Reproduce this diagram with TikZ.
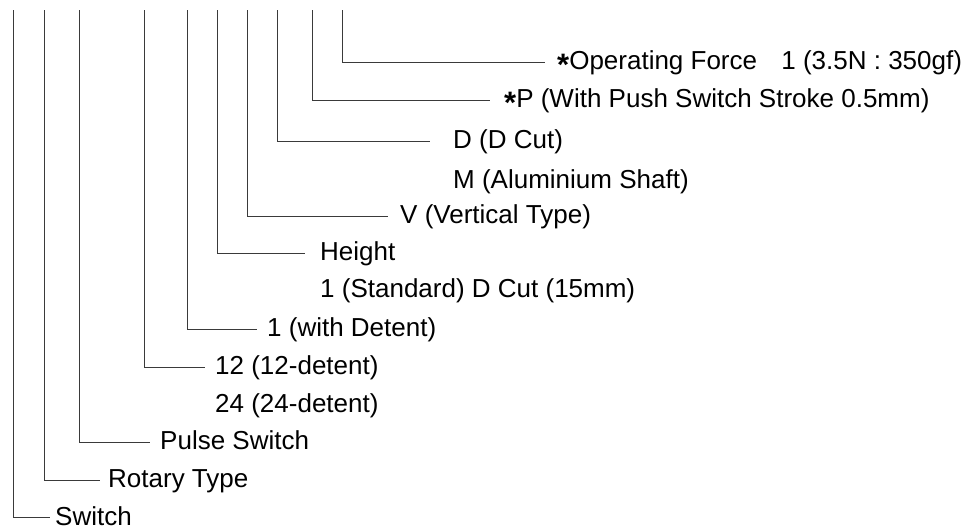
\documentclass[tikz,border=0pt]{standalone}
\usepackage{fontspec}
\setmainfont{Liberation Sans}
\usepackage{tikz}
\usetikzlibrary{positioning}
\definecolor{wire}{HTML}{3A3A3A}
\newcommand{\optmark}{\raisebox{-0.22em}{\fontsize{31}{31}\selectfont\bfseries *}}

\begin{document}
\begin{tikzpicture}[x=1pt,y=-1pt,
  lbl/.style={anchor=base west,inner sep=0pt,font=\fontsize{26}{30}\selectfont},
  lead/.style={draw=wire,line width=0.9pt}]
\useasboundingbox (0,0) rectangle (973,531);
% tops of the leader lines
\coordinate (tsw) at (13,10);
\coordinate (trt) at (44,10);
\coordinate (tps) at (79,10);
\coordinate (tdt) at (144,10);
\coordinate (twd) at (187,10);
\coordinate (tht) at (217,10);
\coordinate (tvt) at (247,10);
\coordinate (tdc) at (277,10);
\coordinate (tpu) at (312,10);
\coordinate (tof) at (342,10);
% labels
\node[lbl] (of) at (557,69.5) {\optmark Operating Force\hspace{17pt} 1 (3.5N : 350gf)};
\node[lbl] (pu) at (504,107.5) {\optmark P (With Push Switch Stroke 0.5mm)};
\node[lbl] (dc) at (453,148.5) {D (D Cut)};
\node[lbl] (am) at ([yshift=-40pt]dc.base west) {M (Aluminium Shaft)};
\node[lbl] (vt) at (400,223.5) {V (Vertical Type)};
\node[lbl] (ht) at (320,260.5) {Height};
\node[lbl] (sd) at ([yshift=-37pt]ht.base west) {1 (Standard) D Cut (15mm)};
\node[lbl] (wd) at (267,336.5) {1 (with Detent)};
\node[lbl] (dt) at (215,374.5) {12 (12-detent)};
\node[lbl] (dd) at ([yshift=-38pt]dt.base west) {24 (24-detent)};
\node[lbl] (ps) at (160,449.5) {Pulse Switch};
\node[lbl] (rt) at (108,487.5) {Rotary Type};
\node[lbl] (sw) at (55,525) {Switch};
% leaders
\draw[lead] (tof) |- ([xshift=-12pt,yshift=7.5pt]of.base west);
\draw[lead] (tpu) |- ([xshift=-14pt,yshift=7.5pt]pu.base west);
\draw[lead] (tdc) |- ([xshift=-23pt,yshift=7.5pt]dc.base west);
\draw[lead] (tvt) |- ([xshift=-12pt,yshift=7.5pt]vt.base west);
\draw[lead] (tht) |- ([xshift=-15pt,yshift=7.5pt]ht.base west);
\draw[lead] (twd) |- ([xshift=-10pt,yshift=7.5pt]wd.base west);
\draw[lead] (tdt) |- ([xshift=-10pt,yshift=7.5pt]dt.base west);
\draw[lead] (tps) |- ([xshift=-10pt,yshift=7.5pt]ps.base west);
\draw[lead] (trt) |- ([xshift=-8pt,yshift=7.5pt]rt.base west);
\draw[lead] (tsw) |- ([xshift=-5pt,yshift=7.5pt]sw.base west);
\end{tikzpicture}
\end{document}
